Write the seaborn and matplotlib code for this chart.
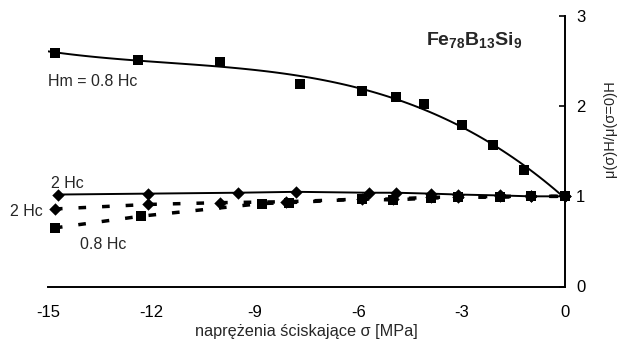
import matplotlib
matplotlib.use('Agg')
import matplotlib.pyplot as plt
import seaborn as sns

# Hm = 0.8 Hc, solid curve (squares)
sigma_top = [-14.8, -12.4, -10.0, -7.7, -5.9, -4.9, -4.1, -3.0, -2.1, -1.2, 0.0]
mu_top = [2.59, 2.51, 2.49, 2.25, 2.17, 2.10, 2.02, 1.79, 1.57, 1.29, 1.00]

# 2 Hc, solid line (diamonds)
sigma_2hc = [-14.7, -12.1, -9.5, -7.8, -5.7, -4.9, -3.9, -3.1, -1.9, -1.0, 0.0]
mu_2hc = [1.02, 1.03, 1.04, 1.05, 1.04, 1.04, 1.03, 1.02, 1.01, 1.00, 1.00]

# 2 Hc, dashed line (diamonds)
sigma_2hc_d = [-14.8, -12.1, -10.0, -8.1, -5.9, -5.0, -3.9, -3.1, -1.9, -1.0, 0.0]
mu_2hc_d = [0.86, 0.91, 0.93, 0.94, 0.97, 0.97, 0.99, 0.99, 1.00, 1.00, 1.00]

# 0.8 Hc, dashed line (squares)
sigma_08_d = [-14.8, -12.3, -8.8, -8.0, -5.9, -5.0, -3.9, -3.1, -1.9, -1.0, 0.0]
mu_08_d = [0.65, 0.78, 0.92, 0.93, 0.97, 0.96, 0.98, 0.99, 0.99, 1.00, 1.00]

x_ticks = [-15, -12, -9, -6, -3, 0]
y_ticks = [0, 1, 2, 3]

sns.set_style('white')
plt.rcParams['font.family'] = ['Liberation Sans', 'DejaVu Sans']
plt.rcParams['axes.unicode_minus'] = False
plt.rcParams['mathtext.fontset'] = 'custom'
plt.rcParams['mathtext.rm'] = 'Liberation Sans'
plt.rcParams['mathtext.bf'] = 'Liberation Sans:bold'

fig = plt.figure(figsize=(6.2, 3.49), dpi=100)
ax = fig.add_axes([48 / 620, 1 - 286.5 / 349, 517 / 620, 270.5 / 349])
ax.set_xlim(-15, 0)
ax.set_ylim(0, 3)

dash = (0, (2.2, 4.6))
sns.lineplot(x=sigma_08_d, y=mu_08_d, color='black', lw=2.5, linestyle=dash, ax=ax)
sns.lineplot(x=sigma_2hc_d, y=mu_2hc_d, color='black', lw=2.5, linestyle=dash, ax=ax)
sns.lineplot(x=sigma_2hc, y=mu_2hc, color='black', lw=1.4, ax=ax)
sns.regplot(x=sigma_top, y=mu_top, order=3, ci=None, scatter=False, truncate=False,
            line_kws=dict(color='black', lw=1.4), ax=ax)

sq = dict(marker='s', s=46, color='black', edgecolor='black', linewidth=0, zorder=4, clip_on=False)
dm = dict(marker='D', s=40, color='black', edgecolor='black', linewidth=0, zorder=4, clip_on=False)
sns.scatterplot(x=sigma_top, y=mu_top, ax=ax, **sq)
sns.scatterplot(x=sigma_08_d, y=mu_08_d, ax=ax, **sq)
sns.scatterplot(x=sigma_2hc, y=mu_2hc, ax=ax, **dm)
sns.scatterplot(x=sigma_2hc_d, y=mu_2hc_d, ax=ax, **dm)

for side in ['left', 'top']:
    ax.spines[side].set_visible(False)
for side in ['right', 'bottom']:
    ax.spines[side].set_color('black')
    ax.spines[side].set_linewidth(1.4)

ax.yaxis.tick_right()
ax.set_xticks(x_ticks)
ax.set_yticks(y_ticks)
ax.set_xticklabels([str(t) for t in x_ticks])
ax.tick_params(direction='in', length=4, width=1.2, colors='black', labelsize=12)
ax.tick_params(axis='x', pad=13)
ax.tick_params(axis='y', pad=8)

ax.set_xlabel('naprężenia ściskające σ [MPa]', fontsize=11.7, labelpad=3)
ax.set_ylabel('μ(σ)H/μ(σ=0)H', fontsize=10.5, rotation=90, va='center', ha='center')
ax.yaxis.set_label_position('right')
ax.yaxis.set_label_coords(1.073, 0.582)

ax.text(-2.64, 2.73, r'$\mathbf{Fe_{78}B_{13}Si_{9}}$', fontsize=14, ha='center', va='center')
ax.text(-14.99, 2.27, 'Hm = 0.8 Hc', fontsize=11.5, ha='left', va='center')
ax.text(-14.45, 1.137, '2 Hc', fontsize=11.5, ha='center', va='center')
ax.text(-15.14, 0.837, '2 Hc', fontsize=11.5, ha='right', va='center', clip_on=False)
ax.text(-13.4, 0.471, '0.8 Hc', fontsize=11.5, ha='center', va='center')

fig.savefig('out.png', dpi=100)
